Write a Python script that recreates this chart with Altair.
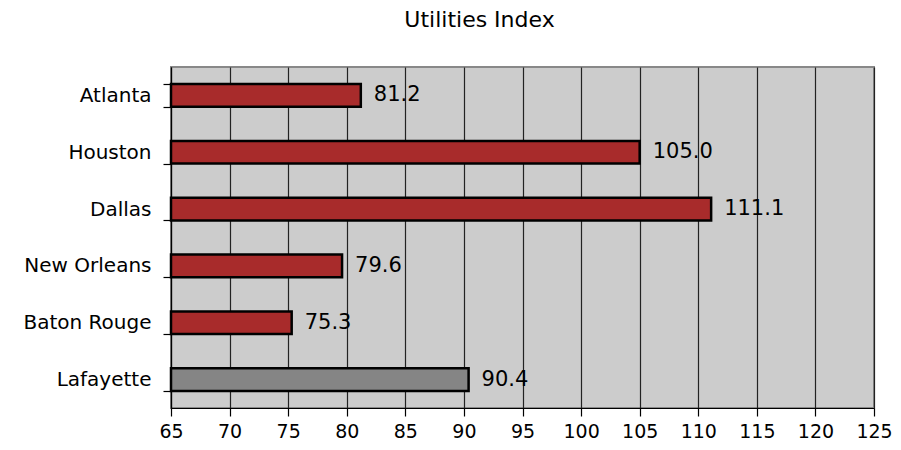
import altair as alt
import pandas as pd

cities = ["Atlanta", "Houston", "Dallas", "New Orleans", "Baton Rouge", "Lafayette"]
values = [81.2, 105.0, 111.1, 79.6, 75.3, 90.4]
groups = ["other", "other", "other", "other", "other", "home"]
x_ticks = [65, 70, 75, 80, 85, 90, 95, 100, 105, 110, 115, 120, 125]
x_min, x_max = 65, 125

df = pd.DataFrame({"city": cities, "value": values, "group": groups})

FONT = "DejaVu Sans"

base = alt.Chart(df)

x = alt.X("value:Q",
          scale=alt.Scale(domain=[x_min, x_max], nice=False, zero=False),
          axis=alt.Axis(values=x_ticks, title=None, grid=True, gridColor="#222222",
                        gridWidth=1.2, domainColor="#000000", domainWidth=1.2,
                        tickColor="#000000", tickSize=8, tickWidth=1.2,
                        labelFontSize=19, labelFont=FONT, labelColor="#000000",
                        labelPadding=6, labelFlush=False, labelOverlap=False))
y = alt.Y("city:N", sort=cities,
          scale=alt.Scale(paddingInner=0.6, paddingOuter=0.3),
          axis=alt.Axis(title=None, tickBand="extent", domainColor="#000000",
                        domainWidth=1.2, tickColor="#000000", tickSize=8, tickWidth=1.2,
                        labelFontSize=20, labelFont=FONT, labelColor="#000000",
                        labelPadding=12))

bars = base.mark_bar(stroke="#000000", strokeWidth=2.5).encode(
    x=x,
    x2=alt.datum(x_min),
    y=y,
    color=alt.Color("group:N",
                    scale=alt.Scale(domain=["other", "home"], range=["#a82b2b", "#858585"]),
                    legend=None),
)

labels = base.mark_text(align="left", baseline="middle", dx=13, fontSize=21,
                        font=FONT, color="#000000").encode(
    x=alt.X("value:Q"),
    y=alt.Y("city:N", sort=cities),
    text=alt.Text("value:Q", format=".1f"),
)

chart = (bars + labels).properties(
    width=703, height=341,
    title=alt.TitleParams("Utilities Index", fontSize=22, font=FONT, fontWeight="normal",
                          color="#000000", offset=25, dx=-43),
    autosize=alt.AutoSizeParams(type="none"),
    padding={"left": 163, "top": 59, "right": 18, "bottom": 40},
    background="#ffffff",
).configure_view(fill="#cccccc", stroke="#888888", strokeWidth=2)

chart.save("out.html", embed_options={"renderer": "svg", "actions": False})
